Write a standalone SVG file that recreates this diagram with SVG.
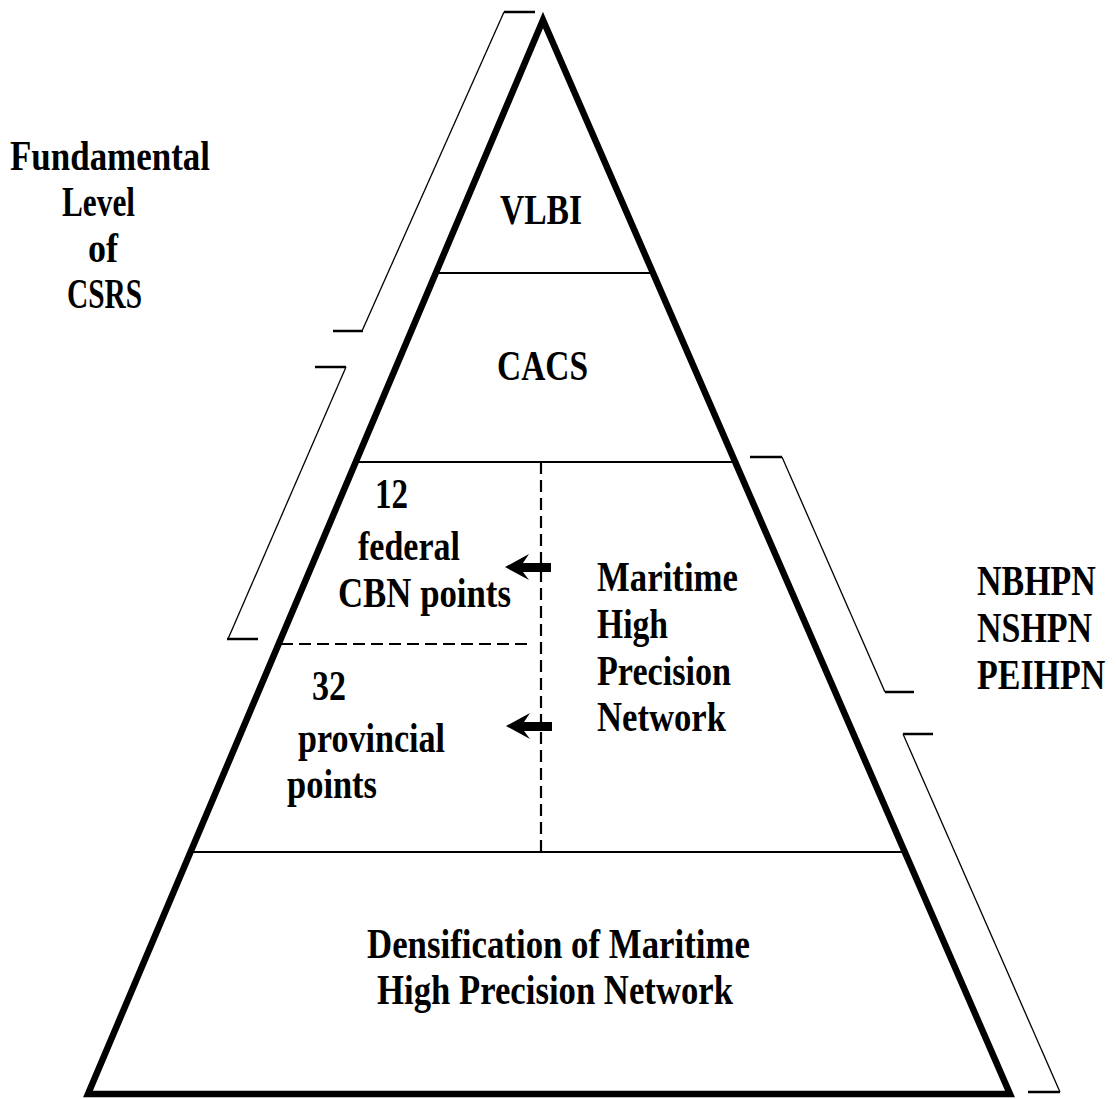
<svg xmlns="http://www.w3.org/2000/svg" width="1117" height="1099" viewBox="0 0 1117 1099">
<style>
text{font-family:"Liberation Serif","Times New Roman",serif;font-weight:bold;font-size:43px;fill:#000}
.edge{fill:none;stroke:#000;stroke-width:6.5;stroke-linejoin:miter}
.div{stroke:#000;stroke-width:2}
.dash{stroke:#000;stroke-width:2.2;stroke-dasharray:12 6}
.bd{fill:none;stroke:#000;stroke-width:1.3}
.bt{stroke:#000;stroke-width:2.5}
</style>
<rect width="1117" height="1099" fill="#fff"/>
<g id="pyramid">
<polygon class="edge" points="543,20 1010,1094 88,1094"/>
<line class="div" x1="437" y1="273" x2="652" y2="273"/>
<line class="div" x1="357" y1="462" x2="735" y2="462"/>
<line class="div" x1="191" y1="852" x2="904" y2="852"/>
</g>
<g id="connectors">
<line class="dash" x1="541" y1="462" x2="541" y2="852"/>
<line class="dash" x1="281" y1="644" x2="530" y2="644"/>
<polygon points="505,567 529,554 523,563 551,563 551,572 523,572 529,580"/>
<polygon points="506,726 530,713 524,722 552,722 552,731 524,731 530,739"/>
</g>
<g id="bracket-fundamental">
<polyline class="bd" points="504,12 362,331"/>
<line class="bt" x1="504" y1="12" x2="535" y2="12"/>
<line class="bt" x1="333" y1="331" x2="363" y2="331"/>
</g>
<g id="bracket-cacs-cbn">
<polyline class="bd" points="346,367 228,639"/>
<line class="bt" x1="315" y1="367" x2="346" y2="367"/>
<line class="bt" x1="227" y1="639" x2="258" y2="639"/>
</g>
<g id="bracket-hpn">
<polyline class="bd" points="782,457 885,692"/>
<line class="bt" x1="750" y1="457" x2="782" y2="457"/>
<line class="bt" x1="885" y1="692" x2="914" y2="692"/>
</g>
<g id="bracket-densification">
<polyline class="bd" points="903,734 1060,1092"/>
<line class="bt" x1="903" y1="734" x2="933" y2="734"/>
<line class="bt" x1="1028" y1="1092" x2="1060" y2="1092"/>
</g>
<g id="label-fundamental">
<text x="10" y="170" textLength="200" lengthAdjust="spacingAndGlyphs">Fundamental</text>
<text x="62" y="216" textLength="73" lengthAdjust="spacingAndGlyphs">Level</text>
<text x="88" y="262" textLength="30" lengthAdjust="spacingAndGlyphs">of</text>
<text x="67" y="308" textLength="75" lengthAdjust="spacingAndGlyphs">CSRS</text>
</g>
<g id="node-vlbi">
<text x="500" y="224" textLength="82" lengthAdjust="spacingAndGlyphs">VLBI</text>
</g>
<g id="node-cacs">
<text x="497" y="380" textLength="91" lengthAdjust="spacingAndGlyphs">CACS</text>
</g>
<g id="node-federal">
<text x="375" y="508" textLength="33" lengthAdjust="spacingAndGlyphs">12</text>
<text x="358" y="560" textLength="102" lengthAdjust="spacingAndGlyphs">federal</text>
<text x="338" y="607" textLength="173" lengthAdjust="spacingAndGlyphs">CBN points</text>
</g>
<g id="node-provincial">
<text x="312" y="700" textLength="34" lengthAdjust="spacingAndGlyphs">32</text>
<text x="298" y="752" textLength="147" lengthAdjust="spacingAndGlyphs">provincial</text>
<text x="287" y="798" textLength="90" lengthAdjust="spacingAndGlyphs">points</text>
</g>
<g id="node-maritime">
<text x="597" y="591" textLength="141" lengthAdjust="spacingAndGlyphs">Maritime</text>
<text x="597" y="638" textLength="71" lengthAdjust="spacingAndGlyphs">High</text>
<text x="597" y="685" textLength="134" lengthAdjust="spacingAndGlyphs">Precision</text>
<text x="597" y="731" textLength="129" lengthAdjust="spacingAndGlyphs">Network</text>
</g>
<g id="node-densification">
<text x="367" y="958" textLength="383" lengthAdjust="spacingAndGlyphs">Densification of Maritime</text>
<text x="377" y="1004" textLength="356" lengthAdjust="spacingAndGlyphs">High Precision Network</text>
</g>
<g id="label-hpn" transform="matrix(0.79,0,0,1,977,0)">
<text x="0" y="595">NBHPN</text>
<text x="0" y="642">NSHPN</text>
<text x="0" y="689">PEIHPN</text>
</g>
</svg>
